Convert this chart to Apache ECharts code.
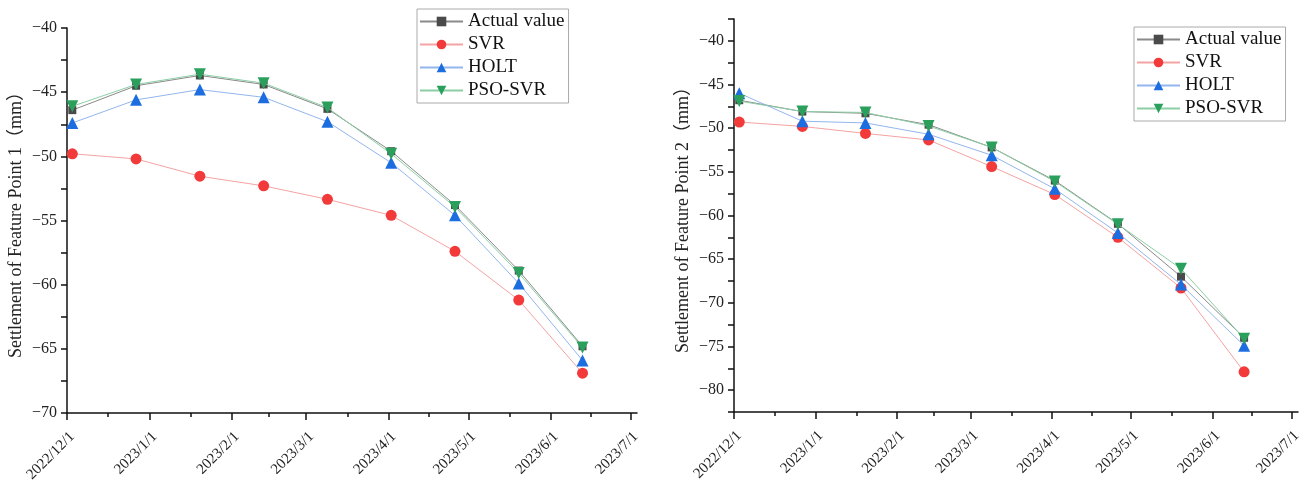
<!DOCTYPE html>
<html><head><meta charset="utf-8">
<script src="https://cdn.jsdelivr.net/npm/echarts@6/dist/echarts.min.js"></script>
<style>html,body{margin:0;padding:0;background:#fff}#c{width:1304px;height:482px}</style>
</head><body><div id="c"></div>
<script>
const dates = ['2022-12-03','2022-12-27','2023-01-20','2023-02-13','2023-03-09','2023-04-02','2023-04-26','2023-05-20','2023-06-13'];
const monthTicks = ['2022-12-01','2023-01-01','2023-02-01','2023-03-01','2023-04-01','2023-05-01','2023-06-01','2023-07-01'];
const seriesNames = ['Actual value','SVR','HOLT','PSO-SVR'];

const actual1 = [-46.4,-44.5,-43.7,-44.4,-46.3,-49.6,-53.8,-58.9,-64.8];
const svr1    = [-49.8,-50.2,-51.55,-52.3,-53.35,-54.6,-57.4,-61.2,-66.9];
const holt1   = [-47.4,-45.6,-44.8,-45.4,-47.3,-50.5,-54.6,-59.9,-65.9];
const pso1    = [-46.1,-44.4,-43.6,-44.3,-46.2,-49.8,-53.95,-59.1,-64.9];

const actual2 = [-46.8,-48.1,-48.3,-49.6,-52.2,-56.0,-60.95,-67.0,-74.0];
const svr2    = [-49.3,-49.8,-50.6,-51.35,-54.4,-57.6,-62.5,-68.3,-77.9];
const holt2   = [-46.0,-49.2,-49.4,-50.7,-53.1,-56.95,-62.0,-67.9,-74.9];
const pso2    = [-46.9,-48.1,-48.2,-49.75,-52.2,-56.1,-61.0,-66.1,-74.1];

const yName1 = 'Settlement of Feature Point 1（mm）';
const yName2 = 'Settlement of Feature Point 2（mm）';

const FONT = "'Liberation Serif','Times New Roman','Noto Sans CJK SC',serif";
const ts = s => { const p = s.split('-').map(Number); return Date.UTC(p[0], p[1]-1, p[2]); };
const xMin = ts('2022-12-01');
const xMax = ts('2023-07-03') + 12*3600*1000;
const majorX = monthTicks.map(ts);
const minorX = majorX.slice(1).map((v,i)=> (v + majorX[i]) / 2);
const fmtDate = v => { const d = new Date(v); return d.getUTCFullYear()+'/'+(d.getUTCMonth()+1)+'/'+d.getUTCDate(); };
const fmtY = v => (Math.abs(v % 5) < 1e-9) ? String(v).replace('-', '\u2212') : '';

const styles = [
  {symbol:'rect', size:8, rot:0, mark:'#4a4a4a', line:'#8a8a8a'},
  {symbol:'circle', size:11, rot:0, mark:'#f23a3a', line:'#f5a3a3'},
  {symbol:'triangle', size:12, rot:0, mark:'#1c6ee0', line:'#93b6ee'},
  {symbol:'triangle', size:12, rot:180, mark:'#2ba05c', line:'#8ccfa5'}
];

function xAxes(grid){
  return [{
    type:'value', gridIndex:grid, min:xMin, max:xMax,
    axisLine:{show:true, lineStyle:{color:'#111', width:1.5}},
    axisTick:{show:true, customValues:majorX, length:7, lineStyle:{color:'#111', width:1.5}},
    axisLabel:{show:true, customValues:majorX, formatter:fmtDate, rotate:45, margin:16,
      verticalAlign:'top', fontFamily:FONT, fontSize:15, color:'#222'},
    splitLine:{show:false}
  },{
    type:'value', gridIndex:grid, min:xMin, max:xMax, position:'bottom',
    axisLine:{show:false},
    axisTick:{show:true, customValues:minorX, length:4, lineStyle:{color:'#111', width:1.5}},
    axisLabel:{show:false}, splitLine:{show:false}
  }];
}
function yAxis(grid, min, max, name){
  return {
    type:'value', gridIndex:grid, min:min, max:max, interval:2.5,
    name:name, nameLocation:'middle', nameGap:42,
    nameTextStyle:{fontFamily:FONT, fontSize:18, color:'#222'},
    axisLine:{show:true, lineStyle:{color:'#111', width:1.5}},
    axisTick:{show:true, length:6, lineStyle:{color:'#111', width:1.5}},
    axisLabel:{formatter:fmtY, fontFamily:FONT, fontSize:16, color:'#222', margin:10},
    splitLine:{show:false}
  };
}
function mkSeries(arrs, xi, yi){
  return arrs.map((arr,k)=>({
    name:seriesNames[k], type:'line', xAxisIndex:xi, yAxisIndex:yi,
    data: arr.map((v,i)=>[ts(dates[i]), v]),
    symbol:styles[k].symbol, symbolSize:styles[k].size, symbolRotate:styles[k].rot,
    itemStyle:{color:styles[k].mark},
    lineStyle:{color:styles[k].line, width:1},
    z: 2+k, animation:false
  }));
}
function legend(left, top){
  return {
    left:left, top:top, orient:'vertical', data:seriesNames,
    itemWidth:43, itemHeight:12, itemGap:4,
    borderColor:'#aaa', borderWidth:1, padding:[3,4,3,2],
    textStyle:{fontFamily:FONT, fontSize:19, color:'#111', lineHeight:19}
  };
}

const chart = echarts.init(document.getElementById('c'), null, {renderer:'canvas'});
chart.setOption({
  animation:false,
  backgroundColor:'#fff',
  grid:[
    {left:67, top:28, width:570, height:385, outerBoundsMode:'none', containLabel:false},
    {left:734, top:19, width:564, height:393, outerBoundsMode:'none', containLabel:false}
  ],
  xAxis:[...xAxes(0), ...xAxes(1)],
  yAxis:[yAxis(0,-70,-40,yName1), yAxis(1,-82.5,-37.5,yName2)],
  legend:[legend(417,9), legend(1134,27)],
  series:[...mkSeries([actual1,svr1,holt1,pso1],0,0), ...mkSeries([actual2,svr2,holt2,pso2],2,1)]
});
</script></body></html>
